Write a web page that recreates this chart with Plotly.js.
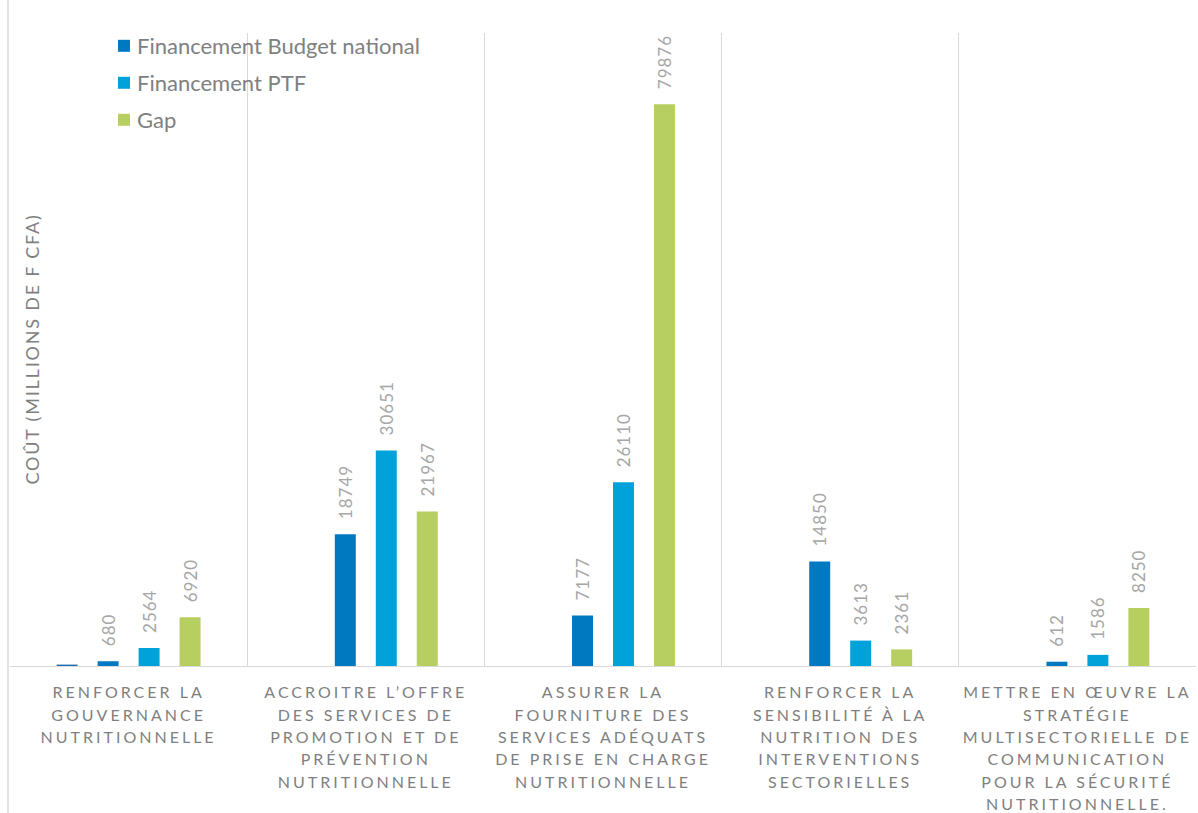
<!DOCTYPE html>
<html>
<head>
<meta charset="utf-8">
<script src="https://cdn.plot.ly/plotly-3.0.1.min.js"></script>
<style>
  html, body { margin: 0; padding: 0; background: #fff; }
  #chart { width: 1198px; height: 813px; }
  .xtick text { letter-spacing: 3px; }
  .bartext { letter-spacing: 1px; }
  .annotation-text { letter-spacing: 1.8px; }
  .legendtext { transform: translateX(-7px); }
</style>
</head>
<body>
<div id="chart"></div>
<script>
const categories = [
  "RENFORCER LA<br>GOUVERNANCE<br>NUTRITIONNELLE",
  "ACCROITRE L’OFFRE<br>DES SERVICES DE<br>PROMOTION ET DE<br>PRÉVENTION<br>NUTRITIONNELLE",
  "ASSURER LA<br>FOURNITURE DES<br>SERVICES ADÉQUATS<br>DE PRISE EN CHARGE<br>NUTRITIONNELLE",
  "RENFORCER LA<br>SENSIBILITÉ À LA<br>NUTRITION DES<br>INTERVENTIONS<br>SECTORIELLES",
  "METTRE EN ŒUVRE LA<br>STRATÉGIE<br>MULTISECTORIELLE DE<br>COMMUNICATION<br>POUR LA SÉCURITÉ<br>NUTRITIONNELLE."
];
const seriesNames = ["", "Financement Budget national", "Financement PTF", "Gap"];
const otherValues = [200, null, null, null, null];
const budgetValues = [680, 18749, 7177, 14850, 612];
const ptfValues = [2564, 30651, 26110, 3613, 1586];
const gapValues = [6920, 21967, 79876, 2361, 8250];
const colors = ["#1F6EAF", "#0079C1", "#00A3D9", "#B7CF60"];
const yTitle = "COÛT (MILLIONS DE F CFA)";

const W = 1198, H = 813;
const M = {l: 10, r: 2, t: 33, b: 147, autoexpand: false};
const plotW = W - M.l - M.r, plotH = H - M.t - M.b;

const labelFont = {family: "Lato, 'Open Sans', sans-serif", size: 17, color: "#A6A6A6"};

function barTrace(i, vals, showText) {
  return {
    type: "bar",
    name: seriesNames[i],
    x: categories,
    y: vals,
    marker: {color: colors[i]},
    text: showText ? vals.map(v => v == null ? "" : String(v)) : undefined,
    textposition: showText ? "outside" : "none",
    textangle: -90,
    textfont: labelFont,
    constraintext: "none",
    cliponaxis: false,
    showlegend: i > 0,
    legendgroup: "g" + i,
    hoverinfo: "x+y"
  };
}

const data = [
  barTrace(0, otherValues, false),
  barTrace(1, budgetValues, true),
  barTrace(2, ptfValues, true),
  barTrace(3, gapValues, true)
];

const layout = {
  width: W, height: H,
  margin: M,
  paper_bgcolor: "#fff",
  plot_bgcolor: "#fff",
  barmode: "group",
  bargap: 0.309,
  bargroupgap: 0.488,
  showlegend: true,
  legend: {
    xref: "paper", yref: "paper",
    x: (104 - M.l) / plotW, y: (H - M.b - 25) / plotH,
    xanchor: "left", yanchor: "top",
    bgcolor: "rgba(0,0,0,0)",
    font: {family: "Lato, 'Open Sans', sans-serif", size: 22, color: "#808080"},
    borderwidth: 0,
    traceorder: "grouped",
    tracegroupgap: 5.4
  },
  xaxis: {
    type: "category",
    tickson: "boundaries",
    showgrid: true,
    gridcolor: "#D9D9D9",
    gridwidth: 1,
    showline: true,
    linecolor: "#D9D9D9",
    linewidth: 1,
    ticks: "",
    ticklabelstandoff: 12,
    tickfont: {family: "Lato, 'Open Sans', sans-serif", size: 16, color: "#7F7F7F"},
    tickangle: 0,
    zeroline: false,
    fixedrange: true
  },
  yaxis: {
    range: [0, 90000],
    showgrid: false,
    showticklabels: false,
    ticks: "",
    zeroline: false,
    showline: false,
    fixedrange: true
  },
  shapes: [{
    type: "line", xref: "paper", yref: "paper",
    x0: (8 - M.l) / plotW, x1: (8 - M.l) / plotW,
    y0: -M.b / plotH, y1: (H - M.b) / plotH,
    line: {color: "#D9D9D9", width: 1.5}
  }],
  annotations: [{
    xref: "paper", yref: "paper",
    x: (31 - M.l) / plotW, y: 0.5,
    xanchor: "center", yanchor: "middle",
    textangle: -90,
    showarrow: false,
    text: yTitle,
    font: {family: "Lato, 'Open Sans', sans-serif", size: 18, color: "#7F7F7F"}
  }]
};

Plotly.newPlot("chart", data, layout, {displayModeBar: false, staticPlot: true}).then(function () {
  document.querySelectorAll("text.bartext").forEach(function (t) {
    const tr = t.getAttribute("transform") || "";
    t.setAttribute("transform", "translate(0,-12) " + tr);
  });
  document.querySelectorAll(".xtick tspan.line").forEach(function (ts) {
    const dy = ts.getAttribute("dy");
    if (dy && dy.indexOf("em") > 0) {
      const v = parseFloat(dy);
      ts.setAttribute("dy", (v / 1.3 * 1.4).toFixed(3) + "em");
    }
  });
});
</script>
</body>
</html>
